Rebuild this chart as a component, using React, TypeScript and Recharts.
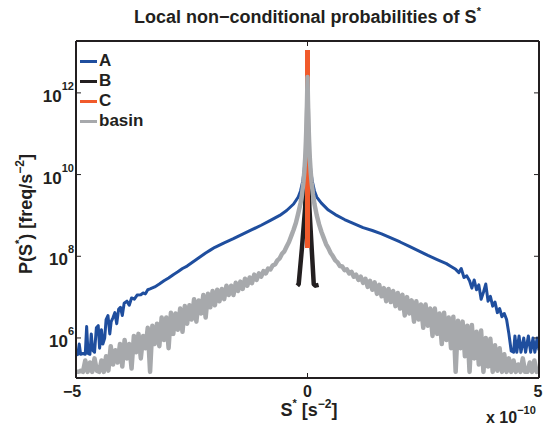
import { LineChart, Line, XAxis, YAxis } from "recharts";

const FONT = "'Liberation Sans', Arial, sans-serif";
const INK = "#231f20";

const xTicks = [-5, 0, 5]; // S* in units of 1e-10 s^-2
const yTicks = [6, 8, 10, 12]; // log10 of P(S*)

const names = ["A", "B", "C", "basin"];
const colors = ["#1f4e9e", "#231f20", "#f15a2b", "#a7a9ac"];

// [S* (x1e-10), log10 P]
const curveA: [number, number][] = [
  [-5.0, 5.58], [-4.96, 5.6], [-4.93, 5.85], [-4.9, 5.6], [-4.85, 5.62], [-4.8, 5.6], [-4.77, 6.28],
  [-4.74, 5.62], [-4.7, 5.6], [-4.67, 6.1], [-4.64, 5.7], [-4.6, 5.65], [-4.56, 6.25], [-4.52, 6.3],
  [-4.49, 5.75], [-4.45, 6.2], [-4.42, 5.85], [-4.38, 6.0], [-4.35, 6.45], [-4.31, 6.55], [-4.27, 6.1],
  [-4.24, 6.4], [-4.2, 6.5], [-4.16, 6.62], [-4.12, 6.35], [-4.08, 6.7], [-4.04, 6.75], [-4.0, 6.55],
  [-3.96, 6.85], [-3.9, 6.9], [-3.85, 6.8], [-3.8, 6.98], [-3.74, 6.95], [-3.68, 7.05], [-3.6, 7.06],
  [-3.55, 7.1], [-3.5, 7.08], [-3.45, 7.18], [-3.4, 7.2], [-3.3, 7.25], [-3.2, 7.32], [-3.1, 7.4],
  [-3.0, 7.47], [-2.9, 7.55], [-2.8, 7.62], [-2.7, 7.7], [-2.6, 7.76], [-2.5, 7.84], [-2.4, 7.92],
  [-2.3, 8.0], [-2.2, 8.08], [-2.1, 8.15], [-2.0, 8.22], [-1.8, 8.33], [-1.6, 8.43], [-1.4, 8.54],
  [-1.2, 8.65], [-1.0, 8.76], [-0.8, 8.88], [-0.6, 9.0], [-0.45, 9.12], [-0.3, 9.28], [-0.2, 9.45],
  [-0.15, 9.6], [-0.1, 9.85], [-0.07, 10.12], [-0.05, 10.38], [-0.03, 10.8], [-0.015, 11.4], [0, 12.1],
  [0.015, 11.4], [0.03, 10.8], [0.05, 10.38], [0.07, 10.1], [0.1, 9.85], [0.15, 9.6], [0.2, 9.45],
  [0.3, 9.3], [0.45, 9.13], [0.6, 9.02], [0.8, 8.9], [1.0, 8.8], [1.2, 8.7], [1.4, 8.63], [1.6, 8.55],
  [1.8, 8.45], [2.0, 8.35], [2.2, 8.24], [2.4, 8.13], [2.6, 8.02], [2.8, 7.92], [3.0, 7.82], [3.1, 7.75],
  [3.2, 7.68], [3.27, 7.6], [3.32, 7.7], [3.38, 7.48], [3.44, 7.52], [3.5, 7.4], [3.55, 7.22], [3.6, 7.42],
  [3.65, 7.18], [3.7, 7.3], [3.75, 6.95], [3.8, 7.12], [3.85, 7.32], [3.9, 6.9], [3.95, 7.02], [4.0, 6.78],
  [4.05, 6.88], [4.1, 6.62], [4.15, 6.72], [4.2, 6.52], [4.25, 6.6], [4.3, 6.45], [4.35, 6.1], [4.4, 5.68],
  [4.45, 5.65], [4.48, 6.05], [4.52, 5.65], [4.57, 6.05], [4.61, 5.65], [4.67, 6.0], [4.71, 5.65],
  [4.77, 6.05], [4.82, 5.65], [4.87, 6.0], [4.91, 5.65], [4.96, 6.0], [5.0, 5.7],
];

const curveB: [number, number][] = [
  [-0.22, 7.28], [-0.19, 7.32], [-0.12, 8.2], [-0.05, 9.2], [-0.02, 10.2], [0, 12.2],
  [0.02, 10.2], [0.04, 9.2], [0.09, 8.2], [0.135, 7.32], [0.17, 7.28], [0.24, 7.3],
];

const curveC: [number, number][] = [
  [0, 8.2], [0, 13.05],
];

const curveBasin: [number, number][] = [
  [-5.0, 5.17], [-4.95, 5.17], [-4.9, 5.2], [-4.85, 5.17], [-4.8, 5.45], [-4.75, 5.17], [-4.7, 5.4],
  [-4.65, 5.17], [-4.6, 5.5], [-4.55, 5.2], [-4.5, 5.17], [-4.45, 5.45], [-4.4, 5.17], [-4.35, 5.55],
  [-4.3, 5.2], [-4.25, 5.8], [-4.2, 5.35], [-4.15, 5.7], [-4.1, 5.4], [-4.05, 5.85], [-4.0, 5.3],
  [-3.95, 5.95], [-3.9, 5.5], [-3.85, 5.85], [-3.8, 5.25], [-3.75, 6.05], [-3.7, 5.65], [-3.65, 6.1],
  [-3.6, 5.5], [-3.55, 6.05], [-3.5, 5.75], [-3.45, 6.25], [-3.4, 5.17], [-3.35, 6.3], [-3.3, 5.85],
  [-3.25, 6.35], [-3.2, 5.8], [-3.15, 6.5], [-3.1, 5.95], [-3.05, 6.5], [-3.0, 5.75], [-2.95, 6.62],
  [-2.9, 6.1], [-2.85, 6.6], [-2.8, 6.2], [-2.75, 6.72], [-2.7, 6.15], [-2.65, 6.78], [-2.6, 6.35],
  [-2.55, 6.8], [-2.5, 6.45], [-2.45, 6.95], [-2.4, 6.4], [-2.35, 6.92], [-2.3, 6.6], [-2.25, 7.05],
  [-2.2, 6.5], [-2.15, 7.08], [-2.1, 6.75], [-2.05, 7.15], [-2.0, 6.8], [-1.95, 7.18], [-1.9, 6.9],
  [-1.85, 7.2], [-1.8, 6.95], [-1.75, 7.28], [-1.7, 7.05], [-1.65, 7.28], [-1.6, 7.05], [-1.55, 7.35],
  [-1.5, 7.15], [-1.45, 7.38], [-1.4, 7.2], [-1.35, 7.45], [-1.3, 7.28], [-1.25, 7.48], [-1.2, 7.34],
  [-1.15, 7.55], [-1.1, 7.42], [-1.05, 7.58], [-1.0, 7.5], [-0.95, 7.64], [-0.9, 7.58], [-0.85, 7.7],
  [-0.8, 7.68], [-0.75, 7.78], [-0.7, 7.8], [-0.65, 7.9], [-0.6, 7.95], [-0.55, 8.06], [-0.5, 8.12],
  [-0.45, 8.24], [-0.4, 8.35], [-0.35, 8.5], [-0.3, 8.65], [-0.25, 8.82], [-0.2, 9.05], [-0.15, 9.3],
  [-0.12, 9.5], [-0.09, 9.8], [-0.07, 10.05], [-0.05, 10.4], [-0.035, 10.8], [-0.02, 11.3], [-0.01, 11.8],
  [0, 12.39],
  [0.01, 11.8], [0.02, 11.3], [0.035, 10.8], [0.05, 10.4], [0.07, 10.05], [0.09, 9.8], [0.12, 9.5],
  [0.15, 9.28], [0.2, 9.0], [0.25, 8.78], [0.3, 8.6], [0.35, 8.45], [0.4, 8.3], [0.45, 8.2], [0.5, 8.08],
  [0.55, 8.0], [0.6, 7.9], [0.65, 7.85], [0.7, 7.76], [0.75, 7.75], [0.8, 7.66], [0.85, 7.68], [0.9, 7.58],
  [0.95, 7.62], [1.0, 7.5], [1.05, 7.55], [1.1, 7.42], [1.15, 7.5], [1.2, 7.35], [1.25, 7.45], [1.3, 7.25],
  [1.35, 7.4], [1.4, 7.18], [1.45, 7.36], [1.5, 7.08], [1.55, 7.3], [1.6, 7.02], [1.65, 7.22], [1.7, 6.9],
  [1.75, 7.2], [1.8, 6.88], [1.85, 7.15], [1.9, 6.78], [1.95, 7.1], [2.0, 6.72], [2.05, 7.06], [2.1, 6.55],
  [2.15, 7.0], [2.2, 6.6], [2.25, 6.92], [2.3, 6.4], [2.35, 6.9], [2.4, 6.45], [2.45, 6.82], [2.5, 6.25],
  [2.55, 6.82], [2.6, 6.3], [2.65, 6.72], [2.7, 6.05], [2.75, 6.72], [2.8, 6.1], [2.85, 6.6], [2.9, 5.85],
  [2.95, 6.62], [3.0, 5.95], [3.05, 6.5], [3.1, 5.75], [3.15, 6.52], [3.2, 5.17], [3.25, 6.42], [3.3, 5.75],
  [3.35, 6.4], [3.4, 5.55], [3.45, 6.3], [3.5, 5.17], [3.55, 6.32], [3.6, 5.5], [3.65, 6.15], [3.7, 5.35],
  [3.75, 6.18], [3.8, 5.17], [3.85, 6.0], [3.9, 5.3], [3.95, 5.98], [4.0, 5.17], [4.05, 5.82], [4.1, 5.2],
  [4.15, 5.75], [4.2, 5.17], [4.25, 5.6], [4.3, 5.17], [4.35, 5.5], [4.4, 5.17], [4.45, 5.45], [4.5, 5.17],
  [4.55, 5.35], [4.6, 5.17], [4.65, 5.5], [4.7, 5.17], [4.75, 5.17], [4.8, 5.4], [4.85, 5.17], [4.9, 5.45],
  [4.95, 5.17], [5.0, 5.2],
];

const toRows = (pts: [number, number][]) => pts.map(([x, y]) => ({ x, y }));

const minus = (v: number) => (v < 0 ? "\u2212" + Math.abs(v) : String(v));

const BottomTick = (props: any) => {
  const { x, y, payload } = props;
  const v = payload.value;
  return (
    <g>
      <line x1={x} y1={y} x2={x} y2={y - 5} stroke={INK} strokeWidth={1} />
      <text x={v < 0 ? x - 4 : v > 0 ? x - 1 : x} y={y + 19} textAnchor="middle" fontSize={16} fontWeight="bold" fill={INK} fontFamily={FONT}>
        {minus(v)}
      </text>
    </g>
  );
};

const TopTick = (props: any) => {
  const { x, y } = props;
  return <line x1={x} y1={y} x2={x} y2={y + 5} stroke={INK} strokeWidth={1} />;
};

const LeftTick = (props: any) => {
  const { x, y, payload } = props;
  return (
    <g>
      <line x1={x} y1={y} x2={x + 5} y2={y} stroke={INK} strokeWidth={1} />
      <text x={x - 2} y={y + 9} textAnchor="end" fontSize={17} fontWeight="bold" fill={INK} fontFamily={FONT}>
        10<tspan dy={-12} fontSize={11}>{payload.value}</tspan>
      </text>
    </g>
  );
};

const RightTick = (props: any) => {
  const { x, y } = props;
  return <line x1={x} y1={y} x2={x - 5} y2={y} stroke={INK} strokeWidth={1} />;
};

const XLabel = () => (
  <g fontFamily={FONT} fontWeight="bold" fill={INK}>
    <text x={309} y={416} textAnchor="middle" fontSize={18}>
      S<tspan dy={-9} fontSize={11}>*</tspan>
      <tspan dy={9}> [s</tspan>
      <tspan dy={-8} fontSize={12}>{"\u22122"}</tspan>
      <tspan dy={8}>]</tspan>
    </text>
    <text x={486} y={423} fontSize={16}>
      x 10<tspan dy={-9} fontSize={11}>{"\u221210"}</tspan>
    </text>
  </g>
);

const YLabel = () => (
  <text
    x={32}
    y={214}
    transform="rotate(-90, 32, 214)"
    textAnchor="middle"
    fontSize={18}
    fontWeight="bold"
    fill={INK}
    fontFamily={FONT}
  >
    P(S<tspan dy={-9} fontSize={11}>*</tspan>
    <tspan dy={9}>) [freq/s</tspan>
    <tspan dy={-8} fontSize={12}>{"\u22122"}</tspan>
    <tspan dy={8}>]</tspan>
  </text>
);

export default function App() {
  const axisLine = { stroke: INK, strokeWidth: 2 };
  const yDomain = [5.02, 13.27];
  return (
    <div style={{ position: "absolute", left: 0, top: 0, width: 543, height: 426, background: "#fff", fontFamily: FONT }}>
      <div
        style={{
          position: "absolute", left: 76, width: 463, top: 6, lineHeight: "22px",
          textAlign: "center", fontSize: 18, fontWeight: "bold", color: INK, whiteSpace: "nowrap",
        }}
      >
        Local non{"\u2212"}conditional probabilities of S
        <span style={{ fontSize: 11, position: "relative", top: -8 }}>*</span>
      </div>

      <LineChart width={543} height={426} margin={{ top: 37, right: 0, bottom: 0, left: 26 }}>
        <XAxis
          dataKey="x" type="number" domain={[-5, 5]} ticks={xTicks} allowDataOverflow
          height={48} tickSize={0} tickMargin={0} tickLine={false} axisLine={axisLine}
          tick={BottomTick} label={XLabel}
        />
        <XAxis
          xAxisId="top" orientation="top" dataKey="x" type="number" domain={[-5, 5]} ticks={xTicks}
          allowDataOverflow height={4} tickSize={0} tickMargin={0} tickLine={false} axisLine={axisLine} tick={TopTick}
        />
        <YAxis
          type="number" domain={yDomain} ticks={yTicks} allowDataOverflow width={50}
          tickSize={0} tickMargin={0} tickLine={false} axisLine={axisLine} tick={LeftTick} label={YLabel}
        />
        <YAxis
          yAxisId="right" orientation="right" type="number" domain={yDomain} ticks={yTicks} allowDataOverflow
          width={4} tickSize={0} tickMargin={0} tickLine={false} axisLine={axisLine} tick={RightTick}
        />
        <Line data={toRows(curveA)} dataKey="y" name={names[0]} stroke={colors[0]} strokeWidth={3}
          dot={false} type="linear" strokeLinejoin="round" isAnimationActive={false} />
        <Line data={toRows(curveB)} dataKey="y" name={names[1]} stroke={colors[1]} strokeWidth={4.5}
          dot={false} type="linear" strokeLinejoin="round" isAnimationActive={false} />
        <Line data={toRows(curveC)} dataKey="y" name={names[2]} stroke={colors[2]} strokeWidth={5}
          dot={false} type="linear" xAxisId="top" yAxisId="right" strokeLinecap="butt" isAnimationActive={false} />
        <Line data={toRows(curveBasin)} dataKey="y" name={names[3]} stroke={colors[3]} strokeWidth={4.5}
          dot={false} type="linear" strokeLinejoin="round" isAnimationActive={false} />
      </LineChart>

      <div style={{ position: "absolute", left: 80, top: 51 }}>
        {names.map((n, i) => (
          <div key={n} style={{ display: "flex", alignItems: "center", height: 20, fontSize: 17, fontWeight: "bold", color: INK }}>
            <span style={{ display: "inline-block", width: 17, height: 3, background: colors[i], marginRight: 2 }} />
            {n}
          </div>
        ))}
      </div>
    </div>
  );
}
